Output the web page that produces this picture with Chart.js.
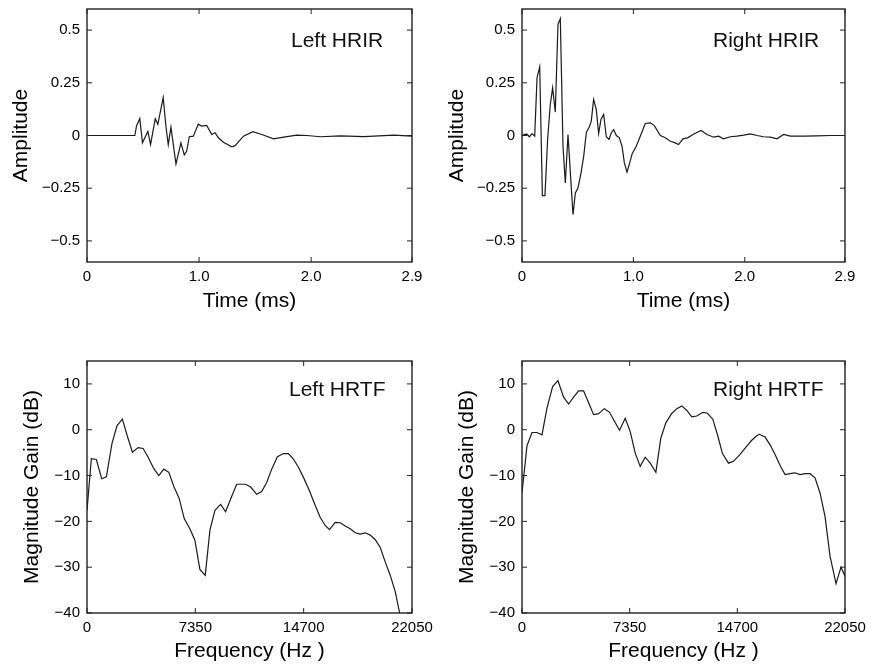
<!DOCTYPE html>
<html>
<head>
<meta charset="utf-8">
<script src="https://cdn.jsdelivr.net/npm/chart.js@4.4.0/dist/chart.umd.min.js"></script>
<style>
  body { margin: 0; background: #fff; }
  #wrap { position: relative; width: 871px; height: 668px; }
  .panel { position: absolute; }
</style>
</head>
<body>
<div id="wrap">
  <div class="panel" style="left:0px;top:0px"><canvas id="tl" width="436" height="334"></canvas></div>
  <div class="panel" style="left:436px;top:0px"><canvas id="tr" width="435" height="334"></canvas></div>
  <div class="panel" style="left:0px;top:334px"><canvas id="bl" width="436" height="334"></canvas></div>
  <div class="panel" style="left:436px;top:334px"><canvas id="br" width="435" height="334"></canvas></div>
</div>
<script>
// ticks
var timeTicks = [0, 1, 2, 2.9];
var timeTickLabels = ['0', '1.0', '2.0', '2.9'];
var ampTicks = [-0.5, -0.25, 0, 0.25, 0.5];
var ampTickLabels = ['\u22120.5', '\u22120.25', '0', '0.25', '0.5'];
var freqTicks = [0, 7350, 14700, 22050];
var freqTickLabels = ['0', '7350', '14700', '22050'];
var gainTicks = [-40, -30, -20, -10, 0, 10];
var gainTickLabels = ['\u221240', '\u221230', '\u221220', '\u221210', '0', '10'];

// left HRIR (ms, amplitude)
var leftIrTime = [0, 0.427, 0.442, 0.471, 0.495, 0.543, 0.567, 0.609, 0.632, 0.680, 0.704, 0.725,
  0.749, 0.794, 0.838, 0.868, 0.889, 0.913, 0.949, 0.993, 1.023, 1.068, 1.113, 1.143, 1.172,
  1.217, 1.292, 1.322, 1.396, 1.480, 1.560, 1.665, 1.754, 1.873, 1.963, 2.082, 2.261, 2.470,
  2.738, 2.90];
var leftIrAmp = [0, 0, 0.045, 0.080, -0.035, 0.019, -0.043, 0.080, 0.053, 0.180, 0.045, -0.043,
  0.040, -0.135, -0.035, -0.092, -0.075, -0.006, -0.003, 0.054, 0.045, 0.048, 0.005, 0.013, -0.011,
  -0.032, -0.054, -0.048, -0.003, 0.018, 0.005, -0.016, -0.008, 0.002, 0, -0.006, -0.002, -0.005,
  0.002, -0.003];

// right HRIR (ms, amplitude)
var rightIrTime = [0, 0.021, 0.045, 0.066, 0.090, 0.114, 0.135, 0.159, 0.183, 0.206, 0.230, 0.254,
  0.275, 0.299, 0.323, 0.344, 0.368, 0.389, 0.413, 0.437, 0.458, 0.479, 0.503, 0.530, 0.554, 0.578,
  0.604, 0.622, 0.643, 0.667, 0.688, 0.709, 0.733, 0.757, 0.781, 0.802, 0.823, 0.847, 0.874, 0.898,
  0.919, 0.943, 0.967, 0.990, 1.026, 1.068, 1.107, 1.152, 1.188, 1.242, 1.287, 1.332, 1.376, 1.406,
  1.445, 1.487, 1.535, 1.607, 1.661, 1.721, 1.765, 1.810, 1.870, 1.930, 1.990, 2.050, 2.110, 2.169,
  2.229, 2.289, 2.349, 2.409, 2.529, 2.648, 2.768, 2.90];
var rightIrAmp = [-0.003, 0.005, 0.006, -0.006, 0.009, -0.003, 0.274, 0.326, -0.285, -0.285, -0.019,
  0.147, 0.226, 0.111, 0.527, 0.554, -0.051, -0.225, 0.005, -0.201, -0.375, -0.272, -0.248, -0.177,
  -0.098, 0.016, 0.040, 0.068, 0.171, 0.123, 0.009, 0.076, 0.100, -0.006, -0.019, 0.013, 0.028, 0,
  -0.011, -0.051, -0.130, -0.174, -0.130, -0.085, -0.051, 0.005, 0.057, 0.060, 0.047, 0, -0.011,
  -0.027, -0.035, -0.043, -0.016, -0.011, 0.005, 0.024, 0.005, -0.008, -0.003, -0.016, -0.006,
  -0.003, 0.002, 0.008, 0, -0.006, -0.008, -0.016, 0.005, -0.003, -0.003, -0.002, 0, 0];

// left HRTF (Hz, dB)
var leftTfFreq = [0, 295, 635, 997, 1314, 1700, 2040, 2402, 2719, 3082, 3467, 3807, 4147, 4532, 4872,
  5212, 5552, 5892, 6255, 6595, 6980, 7320, 7660, 8022, 8340, 8680, 9065, 9405, 9745, 10152, 10764,
  11104, 11512, 11852, 12192, 12532, 12917, 13325, 13665, 14005, 14345, 14685, 15093, 15478, 15818,
  16158, 16453, 16838, 17178, 17518, 17858, 18198, 18538, 18877, 19217, 19557, 19897, 20237, 20577,
  20917, 21212];
var leftTfGain = [-17.6, -6.3, -6.5, -10.7, -10.3, -2.9, 0.9, 2.3, -1.2, -4.9, -3.9, -4.1, -6.0, -8.5,
  -10.0, -8.6, -9.3, -12.4, -15.0, -19.4, -21.6, -24.1, -30.5, -31.8, -21.9, -17.6, -16.3, -17.9,
  -15.1, -11.9, -11.9, -12.5, -14.1, -13.5, -11.5, -8.6, -5.9, -5.2, -5.2, -6.4, -8.2, -10.4, -13.3,
  -16.5, -19.1, -20.9, -21.8, -20.2, -20.3, -21.0, -21.6, -22.5, -22.8, -22.5, -23.0, -24.0, -25.7,
  -28.9, -31.8, -35.4, -40.0];

// right HRTF (Hz, dB)
var rightTfFreq = [0, 341, 682, 1023, 1364, 1705, 2091, 2455, 2842, 3182, 3523, 3864, 4205, 4546, 4887,
  5228, 5615, 5978, 6319, 6660, 7047, 7388, 7729, 8070, 8411, 8752, 9138, 9479, 9820, 10207, 10570,
  10911, 11252, 11593, 11934, 12343, 12662, 13025, 13344, 13685, 14094, 14435, 14889, 15344, 15685,
  16026, 16208, 16594, 16935, 17276, 17617, 17958, 18299, 18640, 18981, 19322, 19663, 20004, 20345,
  20686, 21027, 21436, 21777, 22050];
var rightTfGain = [-13.8, -3.5, -0.6, -0.6, -1.1, 4.7, 9.4, 10.7, 7.1, 5.6, 7.1, 8.5, 8.5, 5.9, 3.3,
  3.5, 4.6, 3.8, 1.8, -0.1, 2.5, -0.4, -5.1, -8.0, -6.0, -7.3, -9.3, -1.8, 1.5, 3.5, 4.6, 5.2, 4.2,
  2.8, 3.0, 3.8, 3.6, 2.3, -1.1, -5.2, -7.3, -6.9, -5.4, -3.6, -2.3, -1.3, -1.0, -1.6, -3.3, -5.4,
  -7.8, -9.8, -9.6, -9.4, -9.8, -9.6, -9.6, -10.5, -13.8, -18.9, -27.6, -33.6, -30.0, -32.0];

var FONT = '"Liberation Sans", Arial, Helvetica, sans-serif';

function toPoints(xs, ys) {
  var pts = [];
  for (var i = 0; i < xs.length; i++) pts.push({x: xs[i], y: ys[i]});
  return pts;
}

function labelFor(ticks, labels) {
  return function(v) {
    var i = ticks.indexOf(v);
    return i < 0 ? '' : labels[i];
  };
}

// box round the plot with inward ticks, plus the panel caption
var boxPlugin = {
  id: 'box',
  afterDraw: function(chart, args, opts) {
    var ctx = chart.ctx;
    var a = chart.chartArea;
    var xs = chart.scales.x, ys = chart.scales.y;
    ctx.save();
    ctx.strokeStyle = '#222';
    ctx.lineWidth = 1.4;
    ctx.strokeRect(a.left, a.top, a.right - a.left, a.bottom - a.top);
    ctx.lineWidth = 1;
    ctx.beginPath();
    xs.ticks.forEach(function(t) {
      var px = xs.getPixelForValue(t.value);
      ctx.moveTo(px, a.bottom); ctx.lineTo(px, a.bottom - 5);
      ctx.moveTo(px, a.top); ctx.lineTo(px, a.top + 5);
    });
    ys.ticks.forEach(function(t) {
      var py = ys.getPixelForValue(t.value);
      ctx.moveTo(a.left, py); ctx.lineTo(a.left + 5, py);
      ctx.moveTo(a.right, py); ctx.lineTo(a.right - 5, py);
    });
    ctx.stroke();
    ctx.fillStyle = '#111';
    ctx.font = '21px ' + FONT;
    ctx.textAlign = 'left';
    ctx.textBaseline = 'alphabetic';
    ctx.fillText(opts.text, a.left + opts.dx, a.top + opts.dy);
    ctx.restore();
  }
};

function makeChart(id, p) {
  new Chart(document.getElementById(id), {
    type: 'scatter',
    data: {
      datasets: [{
        data: toPoints(p.xs, p.ys),
        showLine: true,
        borderColor: '#1a1a1a',
        borderWidth: 1.2,
        pointRadius: 0,
        tension: 0
      }]
    },
    options: {
      responsive: false,
      animation: false,
      layout: { padding: p.pad },
      plugins: {
        legend: { display: false },
        tooltip: { enabled: false },
        box: { text: p.caption, dx: p.dx, dy: p.dy }
      },
      scales: {
        x: {
          type: 'linear',
          min: p.xmin, max: p.xmax,
          grid: { display: false, drawTicks: false },
          border: { display: false },
          afterBuildTicks: function(s) { s.ticks = p.xticks.map(function(v) { return {value: v}; }); },
          afterFit: function(s) { s.height = p.xh; s.paddingLeft = 0; s.paddingRight = 0; },
          ticks: {
            padding: 6, maxRotation: 0, autoSkip: false, color: '#000',
            font: { family: FONT, size: 15 },
            callback: labelFor(p.xticks, p.xlabels)
          },
          title: { display: true, text: p.xtitle, color: '#000', padding: 0,
            font: { family: FONT, size: 21 } }
        },
        y: {
          type: 'linear',
          min: p.ymin, max: p.ymax,
          grid: { display: false, drawTicks: false },
          border: { display: false },
          afterBuildTicks: function(s) { s.ticks = p.yticks.map(function(v) { return {value: v}; }); },
          afterFit: function(s) { s.width = p.yw; s.paddingTop = 0; s.paddingBottom = 0; },
          ticks: {
            padding: 7, autoSkip: false, color: '#000',
            font: { family: FONT, size: 15 },
            callback: labelFor(p.yticks, p.ylabels)
          },
          title: { display: true, text: p.ytitle, color: '#000', padding: 0,
            font: { family: FONT, size: 21 } }
        }
      }
    },
    plugins: [boxPlugin]
  });
}

makeChart('tl', {
  xs: leftIrTime, ys: leftIrAmp, caption: 'Left HRIR', dx: 204, dy: 38,
  xmin: 0, xmax: 2.9, ymin: -0.6, ymax: 0.6,
  xticks: timeTicks, xlabels: timeTickLabels, yticks: ampTicks, ylabels: ampTickLabels,
  xtitle: 'Time (ms)', ytitle: 'Amplitude',
  pad: { left: 8.4, top: 9, right: 24, bottom: 20 }, yw: 78.6, xh: 52
});
makeChart('tr', {
  xs: rightIrTime, ys: rightIrAmp, caption: 'Right HRIR', dx: 191, dy: 38,
  xmin: 0, xmax: 2.9, ymin: -0.6, ymax: 0.6,
  xticks: timeTicks, xlabels: timeTickLabels, yticks: ampTicks, ylabels: ampTickLabels,
  xtitle: 'Time (ms)', ytitle: 'Amplitude',
  pad: { left: 8.4, top: 9, right: 26, bottom: 20 }, yw: 77.6, xh: 52
});
makeChart('bl', {
  xs: leftTfFreq, ys: leftTfGain, caption: 'Left HRTF', dx: 202, dy: 35,
  xmin: 0, xmax: 22050, ymin: -40, ymax: 15,
  xticks: freqTicks, xlabels: freqTickLabels, yticks: gainTicks, ylabels: gainTickLabels,
  xtitle: 'Frequency (Hz )', ytitle: 'Magnitude Gain (dB)',
  pad: { left: 19.4, top: 27, right: 24, bottom: 4.4 }, yw: 67.6, xh: 50.6
});
makeChart('br', {
  xs: rightTfFreq, ys: rightTfGain, caption: 'Right HRTF', dx: 191, dy: 35,
  xmin: 0, xmax: 22050, ymin: -40, ymax: 15,
  xticks: freqTicks, xlabels: freqTickLabels, yticks: gainTicks, ylabels: gainTickLabels,
  xtitle: 'Frequency (Hz )', ytitle: 'Magnitude Gain (dB)',
  pad: { left: 18.4, top: 27, right: 26, bottom: 4.4 }, yw: 67.6, xh: 50.6
});
</script>
</body>
</html>
